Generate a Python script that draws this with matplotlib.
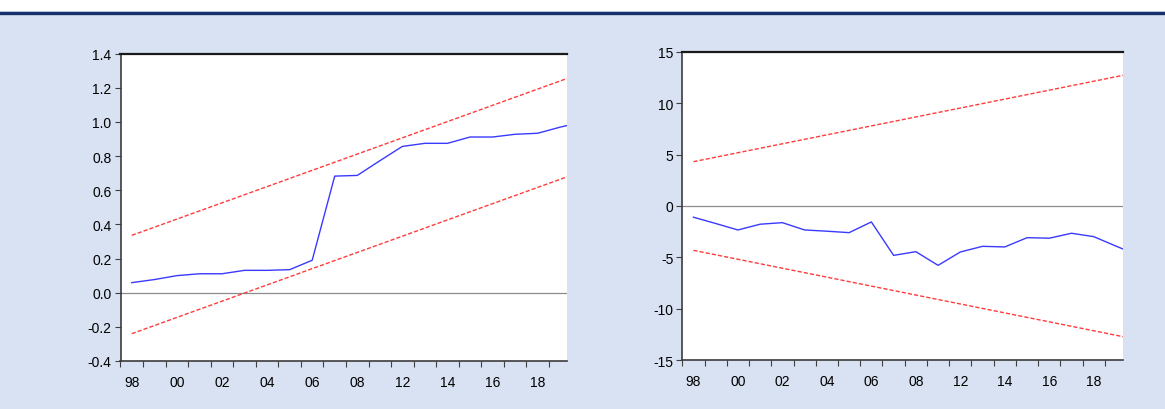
import numpy as np
import matplotlib.pyplot as plt
from matplotlib.lines import Line2D

plt.rcParams["font.family"] = ["Liberation Sans", "DejaVu Sans"]

# observations (21 recursive residuals), x axis is cut before the last one
n_obs = 21
obs = np.arange(n_obs)
tick_labels = ["98", "00", "02", "04", "06", "08", "12", "14", "16", "18"]

# CUSUM of squares
cusumsq = [0.059, 0.077, 0.100, 0.111, 0.111, 0.131, 0.131, 0.135, 0.190,
           0.683, 0.687, 0.773, 0.857, 0.875, 0.875, 0.912, 0.912, 0.928,
           0.934, 0.970, 1.000]
sq_upper = [0.336, 1.288]
sq_lower = [-0.240, 0.712]

# CUSUM
cusum = [-1.09, -1.70, -2.33, -1.77, -1.62, -2.33, -2.45, -2.59, -1.55,
         -4.80, -4.44, -5.77, -4.47, -3.92, -3.98, -3.08, -3.13, -2.65,
         -2.98, -3.90, -4.80]
cs_upper = [4.31, 13.0]
cs_lower = [-4.31, -13.0]

bound_x = [obs[0], obs[-1]]

BG = "#d9e2f2"
BLUE = "#3a3aff"
RED = "#ff3c3c"

fig = plt.figure(figsize=(11.65, 4.10), dpi=100, facecolor=BG)

# white strip and navy rule at the top
fig.patches.append(plt.Rectangle((0, 1 - 12 / 410), 1, 12 / 410, transform=fig.transFigure,
                                 facecolor="white", edgecolor="none", zorder=0))
fig.add_artist(Line2D([0, 1], [1 - 13.5 / 410, 1 - 13.5 / 410], transform=fig.transFigure,
                      color="#15316b", lw=2.4))


def setup(ax, ylim, yticks, yfmt):
    ax.set_facecolor("white")
    ax.set_xlim(-0.5, 19.3)
    ax.set_ylim(*ylim)
    ax.axhline(0, color="#8c8c8c", lw=0.9, zorder=1)

    # period boundaries as ticks, labels sit between them
    ax.set_xticks(np.arange(-0.5, 19, 1))
    ax.set_xticklabels([])
    ax.set_xticks(np.arange(0, 2 * len(tick_labels), 2), minor=True)
    ax.set_xticklabels(tick_labels, minor=True)
    ax.tick_params(axis="x", which="major", direction="out", length=4.5, width=0.8,
                   color="#404040")
    ax.tick_params(axis="x", which="minor", length=0, pad=10, labelsize=10)

    ax.set_yticks(yticks)
    ax.set_yticklabels([yfmt.format(v) for v in yticks])
    ax.tick_params(axis="y", direction="out", length=4.5, width=0.8, color="#404040",
                   pad=2, labelsize=10)

    ax.spines["right"].set_visible(False)
    ax.spines["top"].set_color("#1a1a1a")
    ax.spines["top"].set_linewidth(1.6)
    ax.spines["left"].set_color("#3c3c3c")
    ax.spines["left"].set_linewidth(1.2)
    ax.spines["bottom"].set_color("#3c3c3c")
    ax.spines["bottom"].set_linewidth(1.2)


ax1 = fig.add_axes([120.5 / 1165, 48 / 410, 446.5 / 1165, 307.3 / 410])
setup(ax1, (-0.4, 1.4), np.arange(-0.4, 1.41, 0.2), "{:.1f}")
ax1.plot(obs, cusumsq, color=BLUE, lw=1.0, zorder=3)
ax1.plot(bound_x, sq_upper, color=RED, lw=1.0, ls=(0, (3, 1.5)), zorder=2)
ax1.plot(bound_x, sq_lower, color=RED, lw=1.0, ls=(0, (3, 1.5)), zorder=2)

ax2 = fig.add_axes([682.3 / 1165, 48.7 / 410, 440.4 / 1165, 308.6 / 410])
setup(ax2, (-15, 15), np.arange(-15, 16, 5), "{:d}")
ax2.plot(obs, cusum, color=BLUE, lw=1.0, zorder=3)
ax2.plot(bound_x, cs_upper, color=RED, lw=1.0, ls=(0, (3, 1.5)), zorder=2)
ax2.plot(bound_x, cs_lower, color=RED, lw=1.0, ls=(0, (3, 1.5)), zorder=2)

fig.savefig("out.png", dpi=100, facecolor=BG)
